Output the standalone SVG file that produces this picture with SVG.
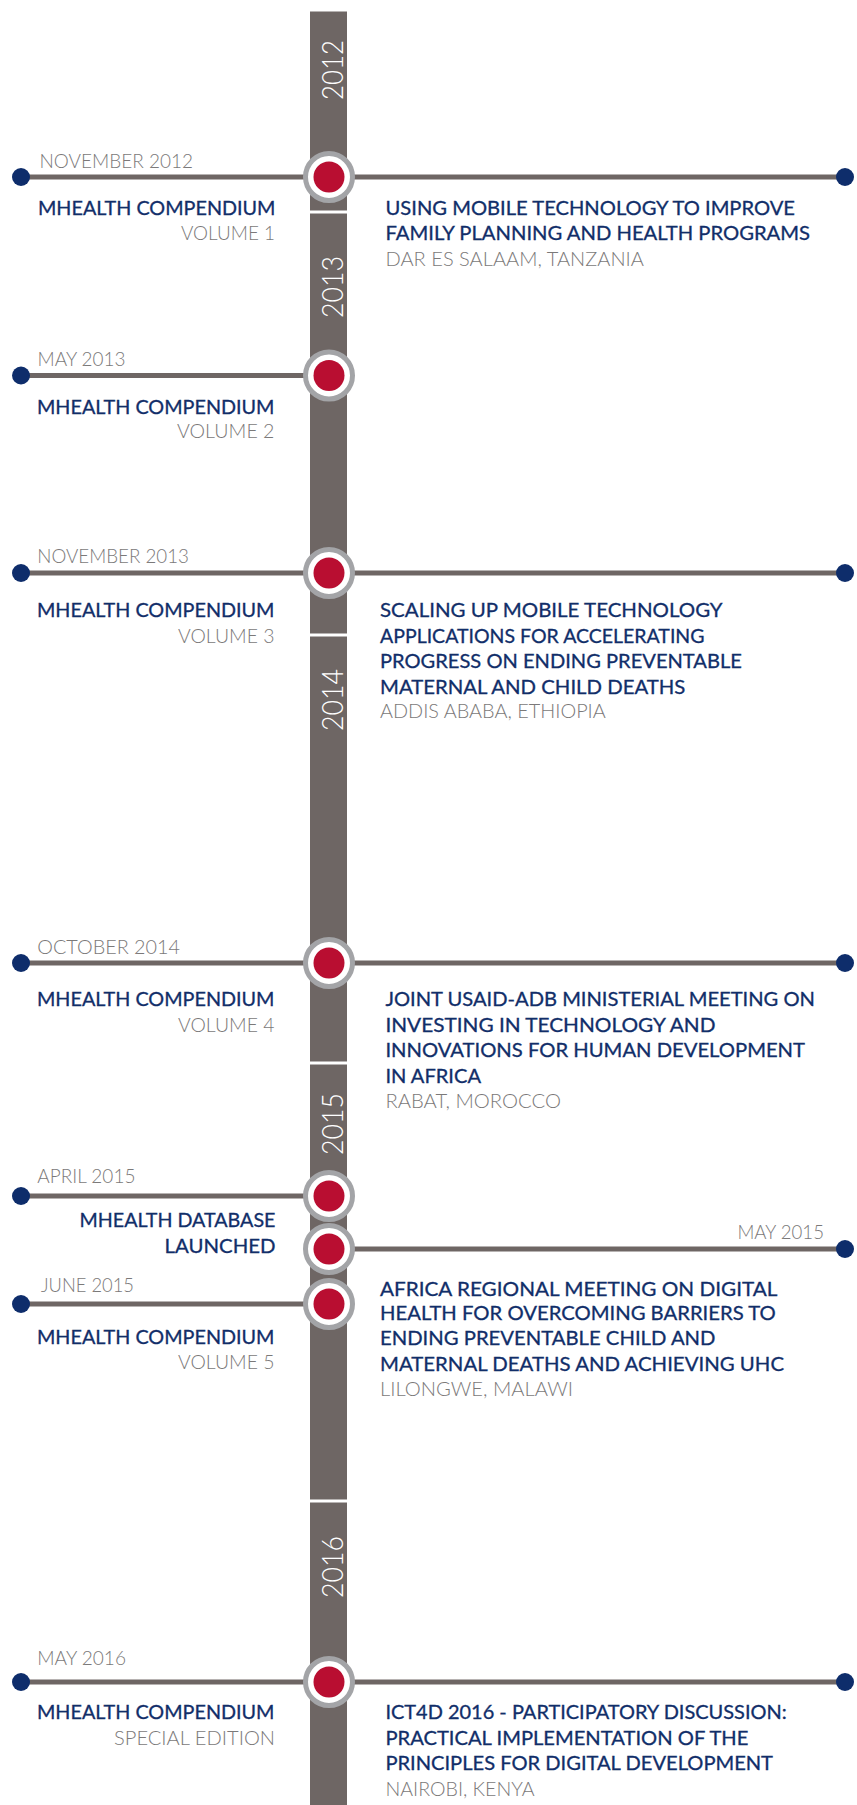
<svg xmlns="http://www.w3.org/2000/svg" xmlns:xlink="http://www.w3.org/1999/xlink" width="857" height="1805" viewBox="0 0 857 1805">
<style>
.t{font-family:Lato,"Open Sans","Liberation Sans",sans-serif;font-size:19.5px}
.b{fill:#112e69;font-weight:400;stroke:#112e69;stroke-width:0.3}
.g{fill:#7b7979;font-weight:300}
.yr{font-family:Lato,"Open Sans","Liberation Sans",sans-serif;fill:#ffffff;font-size:30px;font-weight:300}
.ln{stroke:#6e6664;stroke-width:5;fill:none}
.dot{fill:#0e2d6b}
</style>
<defs>
<g id="hub">
<circle r="23.5" fill="#ffffff" stroke="#a3a4a7" stroke-width="5"/>
<circle r="15.5" fill="#b90e31"/>
</g>
</defs>
<rect width="857" height="1805" fill="#ffffff"/>
<g id="timeline-bar">
<rect x="310" y="11.5" width="37" height="1794" fill="#6e6664"/>
<rect x="310" y="210.5" width="37" height="3" fill="#ffffff"/>
<rect x="310" y="633.5" width="37" height="3" fill="#ffffff"/>
<rect x="310" y="1061.5" width="37" height="3" fill="#ffffff"/>
<rect x="310" y="1499.5" width="37" height="3" fill="#ffffff"/>
<text class="yr" transform="translate(343,70) rotate(-90)" text-anchor="middle" textLength="60" lengthAdjust="spacingAndGlyphs">2012</text>
<text class="yr" transform="translate(343,287) rotate(-90)" text-anchor="middle" textLength="62" lengthAdjust="spacingAndGlyphs">2013</text>
<text class="yr" transform="translate(343,700) rotate(-90)" text-anchor="middle" textLength="62" lengthAdjust="spacingAndGlyphs">2014</text>
<text class="yr" transform="translate(343,1124) rotate(-90)" text-anchor="middle" textLength="62" lengthAdjust="spacingAndGlyphs">2015</text>
<text class="yr" transform="translate(343,1567) rotate(-90)" text-anchor="middle" textLength="62" lengthAdjust="spacingAndGlyphs">2016</text>
</g>
<g id="connectors">
<line class="ln" x1="21" y1="177" x2="845" y2="177"/>
<line class="ln" x1="21" y1="375.5" x2="329" y2="375.5"/>
<line class="ln" x1="21" y1="573" x2="845" y2="573"/>
<line class="ln" x1="21" y1="963" x2="845" y2="963"/>
<line class="ln" x1="21" y1="1196" x2="329" y2="1196"/>
<line class="ln" x1="329" y1="1249" x2="845" y2="1249"/>
<line class="ln" x1="21" y1="1304" x2="329" y2="1304"/>
<line class="ln" x1="21" y1="1682" x2="845" y2="1682"/>
<circle class="dot" cx="21" cy="177" r="9"/><circle class="dot" cx="845" cy="177" r="9"/>
<circle class="dot" cx="21" cy="375.5" r="9"/>
<circle class="dot" cx="21" cy="573" r="9"/><circle class="dot" cx="845" cy="573" r="9"/>
<circle class="dot" cx="21" cy="963" r="9"/><circle class="dot" cx="845" cy="963" r="9"/>
<circle class="dot" cx="21" cy="1196" r="9"/>
<circle class="dot" cx="845" cy="1249" r="9"/>
<circle class="dot" cx="21" cy="1304" r="9"/>
<circle class="dot" cx="21" cy="1682" r="9"/><circle class="dot" cx="845" cy="1682" r="9"/>
</g>
<g id="node-nov2012">
<use xlink:href="#hub" href="#hub" x="329" y="177"/>
<text class="t g" x="39.5" y="168" textLength="153.5" lengthAdjust="spacingAndGlyphs">NOVEMBER 2012</text>
<text class="t b" x="38" y="215" textLength="237.5" lengthAdjust="spacingAndGlyphs">MHEALTH COMPENDIUM</text>
<text class="t g" x="181" y="240" textLength="94" lengthAdjust="spacingAndGlyphs">VOLUME 1</text>
<text class="t b" x="385.5" y="215" textLength="409.5" lengthAdjust="spacingAndGlyphs">USING MOBILE TECHNOLOGY TO IMPROVE</text>
<text class="t b" x="385.5" y="239.5" textLength="424.5" lengthAdjust="spacingAndGlyphs">FAMILY PLANNING AND HEALTH PROGRAMS</text>
<text class="t g" x="385.5" y="265.5" textLength="258.5" lengthAdjust="spacingAndGlyphs">DAR ES SALAAM, TANZANIA</text>
</g>
<g id="node-may2013">
<use xlink:href="#hub" href="#hub" x="329" y="375.5"/>
<text class="t g" x="37.5" y="365.7" textLength="88" lengthAdjust="spacingAndGlyphs">MAY 2013</text>
<text class="t b" x="37" y="414" textLength="237.5" lengthAdjust="spacingAndGlyphs">MHEALTH COMPENDIUM</text>
<text class="t g" x="177" y="438.3" textLength="97.5" lengthAdjust="spacingAndGlyphs">VOLUME 2</text>
</g>
<g id="node-nov2013">
<use xlink:href="#hub" href="#hub" x="329" y="573"/>
<text class="t g" x="37.3" y="563.3" textLength="151.7" lengthAdjust="spacingAndGlyphs">NOVEMBER 2013</text>
<text class="t b" x="37" y="617.3" textLength="237.5" lengthAdjust="spacingAndGlyphs">MHEALTH COMPENDIUM</text>
<text class="t g" x="178" y="643.3" textLength="96.5" lengthAdjust="spacingAndGlyphs">VOLUME 3</text>
<text class="t b" x="380" y="617.3" textLength="342.6" lengthAdjust="spacingAndGlyphs">SCALING UP MOBILE TECHNOLOGY</text>
<text class="t b" x="380" y="643.3" textLength="324.5" lengthAdjust="spacingAndGlyphs">APPLICATIONS FOR ACCELERATING</text>
<text class="t b" x="380" y="668.3" textLength="361.8" lengthAdjust="spacingAndGlyphs">PROGRESS ON ENDING PREVENTABLE</text>
<text class="t b" x="380" y="694" textLength="305.3" lengthAdjust="spacingAndGlyphs">MATERNAL AND CHILD DEATHS</text>
<text class="t g" x="380" y="718.3" textLength="225.8" lengthAdjust="spacingAndGlyphs">ADDIS ABABA, ETHIOPIA</text>
</g>
<g id="node-oct2014">
<use xlink:href="#hub" href="#hub" x="329" y="963"/>
<text class="t g" x="37.3" y="954.3" textLength="142.7" lengthAdjust="spacingAndGlyphs">OCTOBER 2014</text>
<text class="t b" x="37" y="1006" textLength="237.5" lengthAdjust="spacingAndGlyphs">MHEALTH COMPENDIUM</text>
<text class="t g" x="178" y="1031.7" textLength="96.5" lengthAdjust="spacingAndGlyphs">VOLUME 4</text>
<text class="t b" x="385.4" y="1006" textLength="429.6" lengthAdjust="spacingAndGlyphs">JOINT USAID-ADB MINISTERIAL MEETING ON</text>
<text class="t b" x="385.4" y="1031.7" textLength="330.1" lengthAdjust="spacingAndGlyphs">INVESTING IN TECHNOLOGY AND</text>
<text class="t b" x="385.4" y="1056.7" textLength="419.6" lengthAdjust="spacingAndGlyphs">INNOVATIONS FOR HUMAN DEVELOPMENT</text>
<text class="t b" x="385.4" y="1083.3" textLength="95.6" lengthAdjust="spacingAndGlyphs">IN AFRICA</text>
<text class="t g" x="385.4" y="1108.3" textLength="175.6" lengthAdjust="spacingAndGlyphs">RABAT, MOROCCO</text>
</g>
<g id="node-apr2015">
<use xlink:href="#hub" href="#hub" x="329" y="1196"/>
<text class="t g" x="37.3" y="1183.3" textLength="98.1" lengthAdjust="spacingAndGlyphs">APRIL 2015</text>
<text class="t b" x="79.5" y="1227.3" textLength="196" lengthAdjust="spacingAndGlyphs">MHEALTH DATABASE</text>
<text class="t b" x="164.5" y="1252.7" textLength="111" lengthAdjust="spacingAndGlyphs">LAUNCHED</text>
</g>
<g id="node-may2015">
<use xlink:href="#hub" href="#hub" x="329" y="1249"/>
<text class="t g" x="737.4" y="1239.3" textLength="86.6" lengthAdjust="spacingAndGlyphs">MAY 2015</text>
<text class="t b" x="380" y="1295.7" textLength="397.4" lengthAdjust="spacingAndGlyphs">AFRICA REGIONAL MEETING ON DIGITAL</text>
<text class="t b" x="380" y="1320" textLength="395.8" lengthAdjust="spacingAndGlyphs">HEALTH FOR OVERCOMING BARRIERS TO</text>
<text class="t b" x="380" y="1345" textLength="335.5" lengthAdjust="spacingAndGlyphs">ENDING PREVENTABLE CHILD AND</text>
<text class="t b" x="380" y="1371" textLength="404" lengthAdjust="spacingAndGlyphs">MATERNAL DEATHS AND ACHIEVING UHC</text>
<text class="t g" x="380" y="1396" textLength="193" lengthAdjust="spacingAndGlyphs">LILONGWE, MALAWI</text>
</g>
<g id="node-jun2015">
<use xlink:href="#hub" href="#hub" x="329" y="1304"/>
<text class="t g" x="41" y="1291.7" textLength="93" lengthAdjust="spacingAndGlyphs">JUNE 2015</text>
<text class="t b" x="37" y="1344" textLength="237.5" lengthAdjust="spacingAndGlyphs">MHEALTH COMPENDIUM</text>
<text class="t g" x="178" y="1369" textLength="96.5" lengthAdjust="spacingAndGlyphs">VOLUME 5</text>
</g>
<g id="node-may2016">
<use xlink:href="#hub" href="#hub" x="329" y="1682"/>
<text class="t g" x="37.3" y="1665" textLength="88.7" lengthAdjust="spacingAndGlyphs">MAY 2016</text>
<text class="t b" x="37" y="1719.3" textLength="237.5" lengthAdjust="spacingAndGlyphs">MHEALTH COMPENDIUM</text>
<text class="t g" x="114" y="1745" textLength="161" lengthAdjust="spacingAndGlyphs">SPECIAL EDITION</text>
<text class="t b" x="385.4" y="1719.3" textLength="401.3" lengthAdjust="spacingAndGlyphs">ICT4D 2016 - PARTICIPATORY DISCUSSION:</text>
<text class="t b" x="385.4" y="1745" textLength="363" lengthAdjust="spacingAndGlyphs">PRACTICAL IMPLEMENTATION OF THE</text>
<text class="t b" x="385.4" y="1770" textLength="387.6" lengthAdjust="spacingAndGlyphs">PRINCIPLES FOR DIGITAL DEVELOPMENT</text>
<text class="t g" x="385.4" y="1796" textLength="149.1" lengthAdjust="spacingAndGlyphs">NAIROBI, KENYA</text>
</g>
</svg>
